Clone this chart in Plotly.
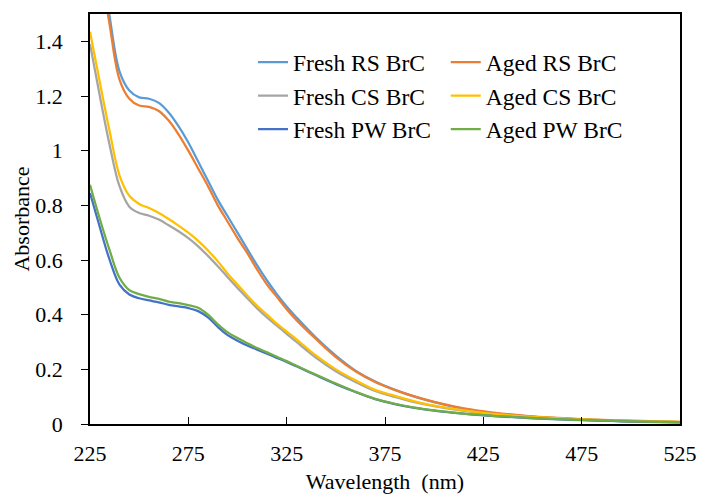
import plotly.graph_objects as go

wavelength = [225, 230, 235, 240, 245, 250, 255, 260, 265, 270, 275, 280, 285, 290, 295,
              300, 305, 310, 315, 320, 325, 330, 340, 350, 360, 370, 380, 390, 400, 410,
              420, 430, 440, 450, 460, 475, 490, 505, 525]

fresh_rs = [2.05, 1.74, 1.49, 1.29, 1.22, 1.195, 1.19, 1.175, 1.14, 1.09, 1.03, 0.96, 0.89, 0.82, 0.76,
            0.70, 0.64, 0.58, 0.525, 0.475, 0.43, 0.39, 0.315, 0.25, 0.195, 0.155, 0.125, 0.10, 0.08, 0.063,
            0.05, 0.04, 0.033, 0.027, 0.022, 0.017, 0.013, 0.010, 0.007]
aged_rs = [2.0, 1.70, 1.46, 1.26, 1.19, 1.165, 1.16, 1.145, 1.11, 1.06, 1.00, 0.935, 0.87, 0.80, 0.74,
           0.68, 0.625, 0.565, 0.51, 0.465, 0.42, 0.38, 0.31, 0.245, 0.193, 0.154, 0.125, 0.101, 0.081, 0.065,
           0.052, 0.042, 0.034, 0.028, 0.023, 0.018, 0.014, 0.011, 0.008]
fresh_cs = [1.39, 1.20, 1.02, 0.87, 0.795, 0.772, 0.762, 0.748, 0.727, 0.705, 0.68, 0.65, 0.615, 0.577, 0.537,
            0.498, 0.46, 0.423, 0.39, 0.36, 0.33, 0.30, 0.242, 0.193, 0.154, 0.121, 0.099, 0.080, 0.065, 0.053,
            0.044, 0.036, 0.030, 0.025, 0.021, 0.016, 0.012, 0.009, 0.007]
aged_cs = [1.435, 1.25, 1.07, 0.91, 0.835, 0.805, 0.79, 0.772, 0.75, 0.726, 0.70, 0.67, 0.635, 0.595, 0.55,
           0.51, 0.47, 0.432, 0.40, 0.367, 0.338, 0.31, 0.25, 0.20, 0.16, 0.125, 0.103, 0.083, 0.067, 0.055,
           0.045, 0.037, 0.031, 0.026, 0.022, 0.017, 0.013, 0.010, 0.008]
fresh_pw = [0.845, 0.72, 0.60, 0.51, 0.474, 0.46, 0.452, 0.445, 0.436, 0.43, 0.424, 0.413, 0.39, 0.355, 0.325,
            0.305, 0.287, 0.272, 0.257, 0.242, 0.227, 0.211, 0.178, 0.146, 0.117, 0.091, 0.073, 0.059, 0.049, 0.041,
            0.034, 0.029, 0.025, 0.021, 0.018, 0.014, 0.011, 0.008, 0.006]
aged_pw = [0.875, 0.75, 0.635, 0.535, 0.49, 0.475, 0.465, 0.458, 0.448, 0.442, 0.435, 0.425, 0.40, 0.365, 0.335,
           0.315, 0.295, 0.278, 0.262, 0.246, 0.23, 0.213, 0.18, 0.148, 0.118, 0.092, 0.074, 0.06, 0.05, 0.042,
           0.035, 0.03, 0.026, 0.022, 0.019, 0.015, 0.012, 0.009, 0.007]

series_names = ["Fresh RS BrC", "Aged RS BrC", "Fresh CS BrC", "Aged CS BrC", "Fresh PW BrC", "Aged PW BrC"]
series_values = [fresh_rs, aged_rs, fresh_cs, aged_cs, fresh_pw, aged_pw]
series_colors = ["#5B9BD5", "#ED7D31", "#A5A5A5", "#FFC000", "#4472C4", "#70AD47"]
series_legend = ["legend", "legend2", "legend", "legend2", "legend", "legend2"]

FONT = "Liberation Serif, serif"

fig = go.Figure()
for name, vals, col, lg in zip(series_names, series_values, series_colors, series_legend):
    fig.add_trace(go.Scatter(x=wavelength, y=vals, name=name, mode="lines", legend=lg,
                             line=dict(color=col, width=2.25, shape="spline", smoothing=1.0)))

legend_common = dict(orientation="v", xanchor="left", yanchor="top", y=0.936,
                     bgcolor="rgba(0,0,0,0)", borderwidth=0, traceorder="normal",
                     font=dict(size=23.5, family=FONT, color="black"))

fig.update_layout(
    width=701, height=498,
    margin=dict(l=90, r=21, t=14, b=74),
    paper_bgcolor="white", plot_bgcolor="white",
    font=dict(family=FONT, size=22, color="black"),
    legend=dict(x=0.2763, **legend_common),
    legend2=dict(x=0.603, **legend_common),
    xaxis=dict(range=[225, 525], tick0=225, dtick=50, showline=True, mirror=True,
               linecolor="black", linewidth=1.5, ticks="inside", ticklen=7, tickcolor="black",
               showgrid=False, zeroline=False, automargin=False, ticklabelstandoff=9,
               tickfont=dict(size=22, family=FONT),
               title=dict(text="Wavelength\u00a0 (nm)", standoff=8, font=dict(size=22, family=FONT))),
    yaxis=dict(range=[0, 1.5], tick0=0, dtick=0.2, showline=True, mirror=True,
               linecolor="black", linewidth=1.5, ticks="outside", ticklen=7, tickcolor="black",
               showgrid=False, zeroline=False, ticklabelstandoff=14, automargin=False,
               tickfont=dict(size=22, family=FONT),
               title=dict(text="Absorbance", standoff=0, font=dict(size=22, family=FONT))),
)

fig.write_html("out.html", config={"displayModeBar": False},
               post_script="document.body.style.margin='0px';")
